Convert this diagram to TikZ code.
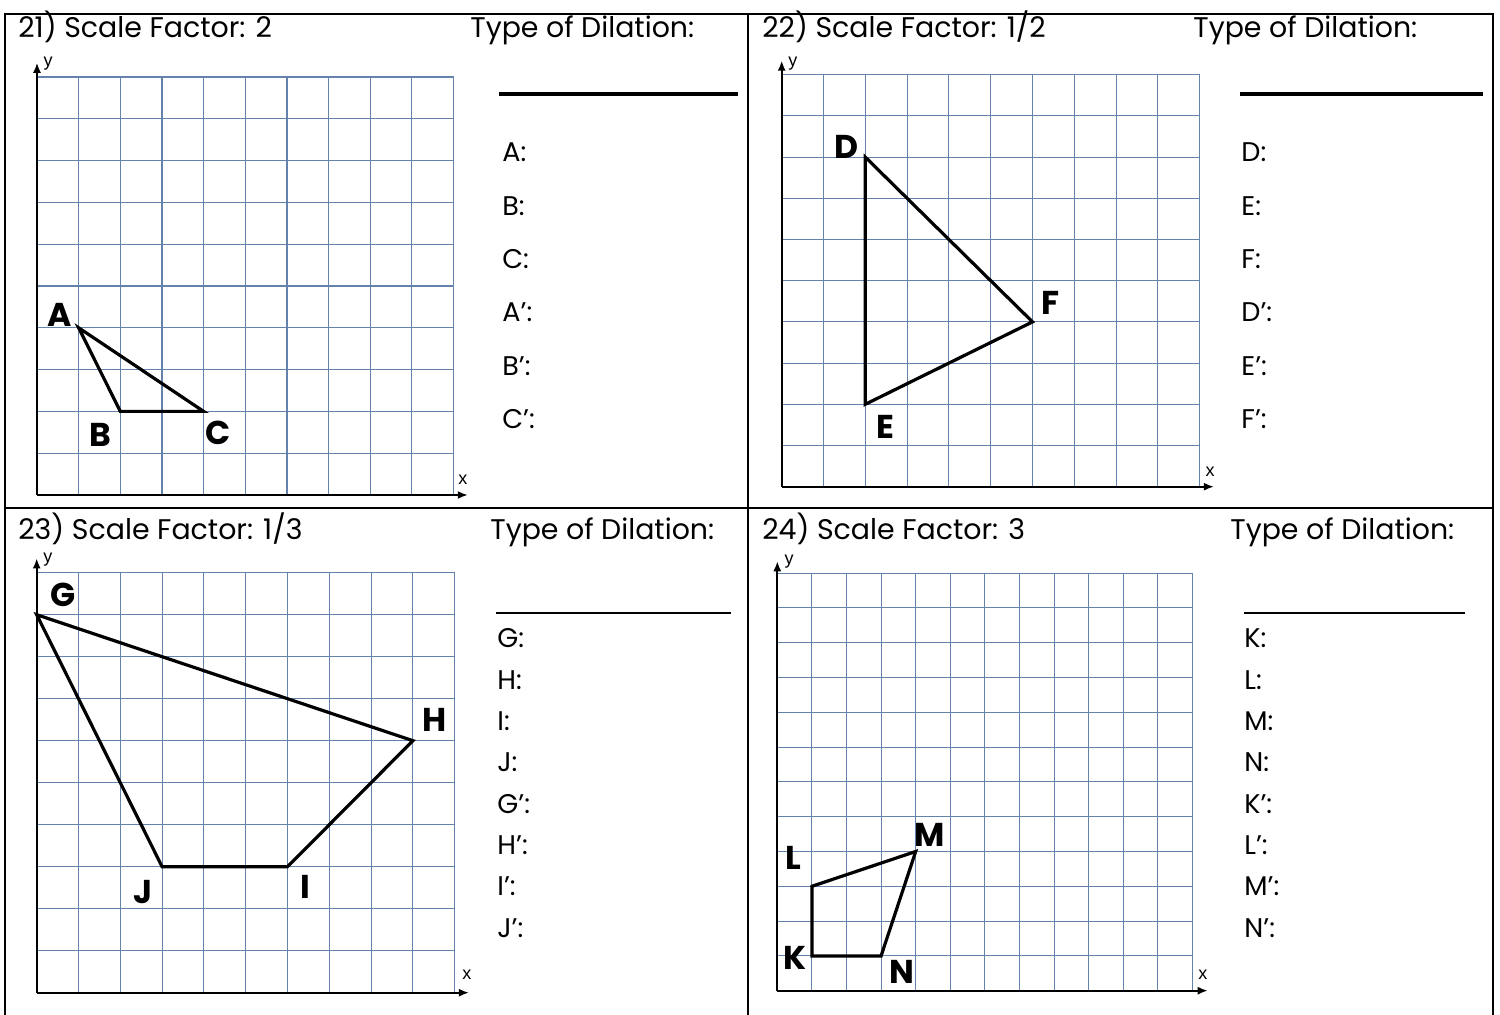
\documentclass[tikz,border=0pt]{standalone}
\usepackage{fontspec}
\setmainfont{Poppins}
\newfontfamily\axfont{Liberation Sans}
\usetikzlibrary{arrows.meta}
\definecolor{gridblue}{RGB}{100,130,172}
\tikzset{
  frame/.style={line width=1.3pt, black},
  gridline/.style={gridblue, line width=0.55pt},
  axisline/.style={black, line width=0.9pt, -{Latex[length=5pt,width=4pt]}},
  figline/.style={black, line width=1.6pt, line join=miter},
  vlabel/.style={font=\fontsize{16.5}{18}\selectfont\bfseries, inner sep=0pt},
  axlabel/.style={font=\axfont\fontsize{9}{10}\selectfont, inner sep=0pt},
  head/.style={font=\fontsize{14.2}{17}\selectfont, anchor=base west, inner sep=0pt},
  item/.style={font=\fontsize{13.5}{16}\selectfont, anchor=base west, inner sep=0pt},
  thickans/.style={line width=2pt},
  thinans/.style={line width=0.8pt},
}
\begin{document}
\begin{tikzpicture}[x=0.5pt,y=-0.5pt]
\useasboundingbox (0,0) rectangle (1500,1015);
% table frame
\coordinate (tl) at (5,14); \coordinate (tr) at (1493,14);
\coordinate (bl) at (5,1015); \coordinate (br) at (1493,1015);
\coordinate (tm) at (748,14); \coordinate (bm) at (748,1015);
\coordinate (ml) at (5,508); \coordinate (mr) at (1493,508);
\draw[frame] (bl) -- (tl) -- (tr) -- (br);
\draw[frame] (tm) -- (bm);
\draw[frame] (ml) -- (mr);

% headers
\node[head] (h21) at (18,38) {21) Scale Factor: 2};
\node[head] (t21) at (470,38) {Type of Dilation:};
\node[head] (h22) at (762,38) {22) Scale Factor: 1/2};
\node[head] (t22) at (1193,38) {Type of Dilation:};
\node[head] (h23) at (18,540) {23) Scale Factor: 1/3};
\node[head] (t23) at (490,540) {Type of Dilation:};
\node[head] (h24) at (762,540) {24) Scale Factor: 3};
\node[head] (t24) at (1230,540) {Type of Dilation:};

% answer lines
\coordinate (a1s) at (499,94); \coordinate (a1e) at (738,94);
\coordinate (a2s) at (1240,94); \coordinate (a2e) at (1483,94);
\coordinate (a3s) at (496,613); \coordinate (a3e) at (731,613);
\coordinate (a4s) at (1244,613); \coordinate (a4e) at (1465,613);
\draw[thickans] (a1s) -- (a1e);
\draw[thickans] (a2s) -- (a2e);
\draw[thinans] (a3s) -- (a3e);
\draw[thinans] (a4s) -- (a4e);

% lists
\foreach \t [count=\k from 0] in {A:,B:,C:,A’:,B’:,C’:}
  \node[item] (la\k) at (502,162+53.3*\k) {\t};
\foreach \t [count=\k from 0] in {D:,E:,F:,D’:,E’:,F’:}
  \node[item] (ld\k) at (1241,162+53.3*\k) {\t};
\foreach \t [count=\k from 0] in {G:,H:,I:,J:,G’:,H’:,I’:,J’:}
  \node[item] (lg\k) at (497,648+41.3*\k) {\t};
\foreach \t [count=\k from 0] in {K:,L:,M:,N:,K’:,L’:,M’:,N’:}
  \node[item] (lk\k) at (1244,648+41.3*\k) {\t};

% panel 21
\begin{scope}[shift={(37,495)}, x=20.83pt, y=20.9pt]
  \foreach \i in {1,...,10} \draw[gridline] (\i,0) -- (\i,10);
  \foreach \j in {1,...,10} \draw[gridline] (0,\j) -- (10,\j);
  \coordinate (o1) at (0,0); \coordinate (x1) at (10.34,0); \coordinate (y1) at (0,10.34);
  \draw[axisline] (o1) -- (x1);
  \draw[axisline] (o1) -- (y1);
  \node[axlabel] (ylab1) at (0.27,10.31) {y};
  \node[axlabel] (xlab1) at (10.22,0.36) {x};
  \coordinate (A) at (1,4); \coordinate (B) at (2,2); \coordinate (C) at (4,2);
  \draw[figline] (A) -- (B) -- (C) -- cycle;
  \node[vlabel] (nA) at (0.55,4.31) {A};
  \node[vlabel] (nB) at (1.51,1.44) {B};
  \node[vlabel] (nC) at (4.34,1.48) {C};
\end{scope}

% panel 22
\begin{scope}[shift={(781.7,486.7)}, x=20.9pt, y=20.6pt]
  \foreach \i in {1,...,10} \draw[gridline] (\i,0) -- (\i,10);
  \foreach \j in {1,...,10} \draw[gridline] (0,\j) -- (10,\j);
  \coordinate (o2) at (0,0); \coordinate (x2) at (10.34,0); \coordinate (y2) at (0,10.34);
  \draw[axisline] (o2) -- (x2);
  \draw[axisline] (o2) -- (y2);
  \node[axlabel] (ylab2) at (0.27,10.28) {y};
  \node[axlabel] (xlab2) at (10.25,0.36) {x};
  \coordinate (D) at (2,8); \coordinate (E) at (2,2); \coordinate (F) at (6,4);
  \draw[figline] (D) -- (E) -- (F) -- cycle;
  \node[vlabel] (nD) at (1.56,8.25) {D};
  \node[vlabel] (nE) at (2.47,1.46) {E};
  \node[vlabel] (nF) at (6.42,4.46) {F};
\end{scope}

% panel 23
\begin{scope}[shift={(36.7,992.7)}, x=20.9pt, y=21pt]
  \foreach \i in {1,...,10} \draw[gridline] (\i,0) -- (\i,10);
  \foreach \j in {1,...,10} \draw[gridline] (0,\j) -- (10,\j);
  \coordinate (o3) at (0,0); \coordinate (x3) at (10.34,0); \coordinate (y3) at (0,10.34);
  \draw[axisline] (o3) -- (x3);
  \draw[axisline] (o3) -- (y3);
  \node[axlabel] (ylab3) at (0.27,10.31) {y};
  \node[axlabel] (xlab3) at (10.29,0.42) {x};
  \coordinate (G) at (0,9); \coordinate (H) at (9,6); \coordinate (I) at (6,3); \coordinate (J) at (3,3);
  \draw[figline] (G) -- (H) -- (I) -- (J) -- cycle;
  \node[vlabel] (nG) at (0.63,9.47) {G};
  \node[vlabel] (nH) at (9.53,6.49) {H};
  \node[vlabel] (nI) at (6.42,2.52) {I};
  \node[vlabel] (nJ) at (2.54,2.40) {J};
\end{scope}

% panel 24
\begin{scope}[shift={(777.3,990.7)}, x=17.3pt, y=17.4pt]
  \foreach \i in {1,...,12} \draw[gridline] (\i,0) -- (\i,12);
  \foreach \j in {1,...,12} \draw[gridline] (0,\j) -- (12,\j);
  \coordinate (o4) at (0,0); \coordinate (x4) at (12.44,0); \coordinate (y4) at (0,12.34);
  \draw[axisline] (o4) -- (x4);
  \draw[axisline] (o4) -- (y4);
  \node[axlabel] (ylab4) at (0.34,12.33) {y};
  \node[axlabel] (xlab4) at (12.3,0.45) {x};
  \coordinate (K) at (1,1); \coordinate (L) at (1,3); \coordinate (M) at (4,4); \coordinate (N) at (3,1);
  \draw[figline] (K) -- (L) -- (M) -- (N) -- cycle;
  \node[vlabel] (nK) at (0.51,0.94) {K};
  \node[vlabel] (nL) at (0.45,3.82) {L};
  \node[vlabel] (nM) at (4.41,4.48) {M};
  \node[vlabel] (nN) at (3.6,0.55) {N};
\end{scope}
\end{tikzpicture}
\end{document}
